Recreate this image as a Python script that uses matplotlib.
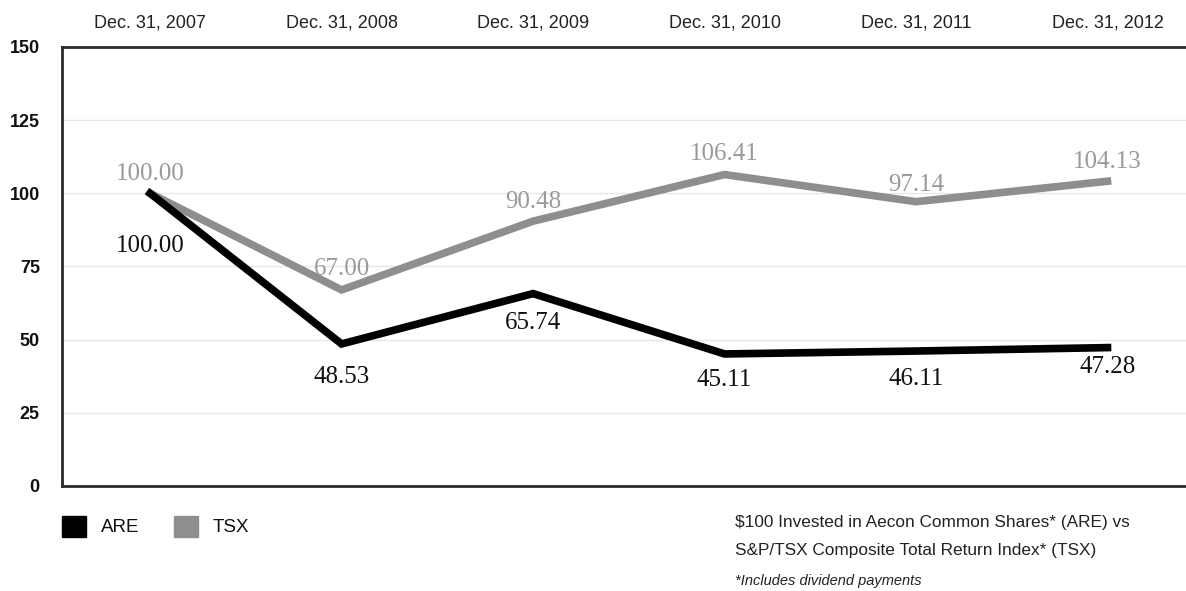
import matplotlib
matplotlib.use("Agg")
import matplotlib.pyplot as plt
from matplotlib.patches import Rectangle

# data
dates = ["Dec. 31, 2007", "Dec. 31, 2008", "Dec. 31, 2009",
         "Dec. 31, 2010", "Dec. 31, 2011", "Dec. 31, 2012"]
are = [100.00, 48.53, 65.74, 45.11, 46.11, 47.28]
tsx = [100.00, 67.00, 90.48, 106.41, 97.14, 104.13]
yticks = [0, 25, 50, 75, 100, 125, 150]

# label offsets in points (below for ARE, above for TSX)
are_off = [-38, -24, -21, -19, -20, -14]
tsx_off = [14, 15, 14, 15, 12, 14]

sans = ["Liberation Sans Narrow", "Liberation Sans", "DejaVu Sans"]
serif = ["Liberation Serif", "DejaVu Serif"]

fig = plt.figure(figsize=(11.86, 5.91), dpi=100)
ax = fig.add_axes([0.0523, 0.1777, 0.9477, 0.7428])

x = list(range(len(dates)))
ax.plot(x, tsx, color="#8e8e8e", lw=5.5, solid_joinstyle="miter", zorder=3)
ax.plot(x, are, color="black", lw=5.5, solid_joinstyle="miter", zorder=4)

for i in x:
    ax.annotate(f"{tsx[i]:.2f}", (i, tsx[i]), xytext=(0, tsx_off[i]),
                textcoords="offset points", ha="center", va="center",
                color="#9a9a9a", fontsize=18, family=serif)
    ax.annotate(f"{are[i]:.2f}", (i, are[i]), xytext=(0, are_off[i]),
                textcoords="offset points", ha="center", va="center",
                color="#111111", fontsize=18, family=serif)

ax.set_xlim(-0.46, 5.41)
ax.set_ylim(0, 150)
ax.set_yticks(yticks)
ax.set_yticklabels([str(t) for t in yticks], family=sans, fontsize=13,
                   fontweight="bold", color="#111111")
ax.set_xticks(x)
ax.set_xticklabels(dates, family=sans, fontsize=13, color="#222222")
ax.xaxis.tick_top()
ax.tick_params(axis="both", length=0)
ax.tick_params(axis="x", pad=11)
ax.tick_params(axis="y", pad=16)
ax.grid(axis="y", color="#e6e6e6", lw=1)
ax.set_axisbelow(True)
for s in ["left", "top", "bottom"]:
    ax.spines[s].set_color("#2a2a2a")
    ax.spines[s].set_linewidth(2)
ax.spines["right"].set_visible(False)

# legend squares
fig.patches.append(Rectangle((62 / 1186, 1 - 537 / 591), 24 / 1186, 21 / 591,
                             transform=fig.transFigure, color="black"))
fig.patches.append(Rectangle((174 / 1186, 1 - 537 / 591), 24 / 1186, 21 / 591,
                             transform=fig.transFigure, color="#8e8e8e"))
fig.text(101 / 1186, 1 - 527 / 591, "ARE", family=sans, fontsize=13.5,
         va="center", color="#111111")
fig.text(213 / 1186, 1 - 527 / 591, "TSX", family=sans, fontsize=13.5,
         va="center", color="#111111")

fig.text(735 / 1186, 1 - 523 / 591,
         "$100 Invested in Aecon Common Shares* (ARE) vs",
         family=sans, fontsize=12.4, va="center", color="#222222")
fig.text(735 / 1186, 1 - 550 / 591,
         "S&P/TSX Composite Total Return Index* (TSX)",
         family=sans, fontsize=12.4, va="center", color="#222222")
fig.text(735 / 1186, 1 - 581 / 591, "*Includes dividend payments",
         family=sans, fontsize=10.5, style="italic", va="center", color="#222222")

fig.savefig("out.png", dpi=100)
